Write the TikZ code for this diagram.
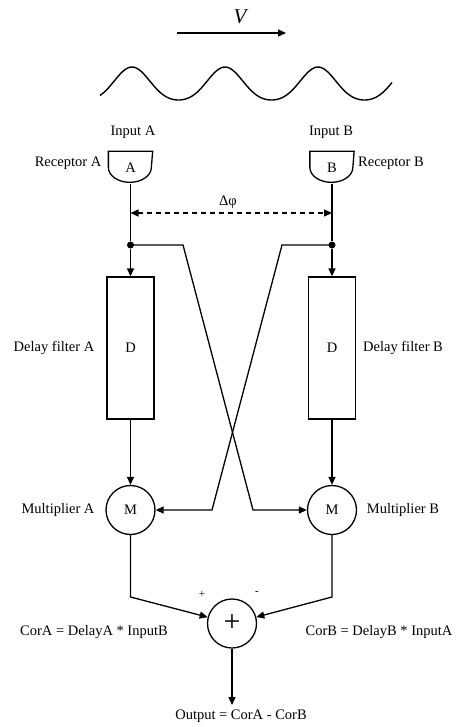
\documentclass[tikz,border=0pt]{standalone}
\usepackage{fontspec}
\setmainfont{Liberation Serif}
\usetikzlibrary{arrows.meta,calc}
\begin{document}
\begin{tikzpicture}[x=1pt,y=-1pt, line width=1.3pt,
  lbl/.style={font=\fontsize{14.5}{17}\selectfont, inner sep=0pt},
  small/.style={font=\fontsize{11}{12}\selectfont, inner sep=0pt},
  arr/.style={-{Triangle[length=8pt,width=7pt]}},
  dbl/.style={{Triangle[length=8pt,width=7pt]}-{Triangle[length=8pt,width=7pt]}},
  box/.style={draw, minimum width=47pt, minimum height=142pt, inner sep=0pt, font=\fontsize{14.5}{17}\selectfont},
  mult/.style={draw, circle, minimum size=49pt, inner sep=0pt, font=\fontsize{14.5}{17}\selectfont},
  recep/.style={minimum width=43pt, minimum height=31pt, inner sep=0pt, font=\fontsize{14.5}{17}\selectfont},
  dot/.style={circle, fill, inner sep=0pt, minimum size=7pt}]
\useasboundingbox (0,0) rectangle (464,727);

% velocity arrow
\node[font=\fontsize{21}{24}\selectfont\itshape, inner sep=0pt] (V) at (240,17) {V};
\coordinate (v1) at (177,33);
\coordinate (v2) at (286,33);
\draw[arr] (v1) -- (v2);

% wave
\draw[line width=1.4pt, smooth, samples=150, domain=100:392]
  plot (\x, {85.5-16.5*cos(3.871*(\x-132))-1.98*cos(7.742*(\x-132))});

% receptors
\node[recep] (RA) at (130.5,167.5) {A};
\draw (RA.north west) -- ++(0,16) arc[start angle=180,end angle=360,x radius=21.5pt,y radius=15pt] -- (RA.north east) -- cycle;
\node[recep] (RB) at (332,167.5) {B};
\draw (RB.north west) -- ++(0,16) arc[start angle=180,end angle=360,x radius=21.5pt,y radius=15pt] -- (RB.north east) -- cycle;

\node[lbl] (inA) at (133,132) {Input A};
\node[lbl] (inB) at (331,132) {Input B};
\node[lbl] (recA) at (68,163) {Receptor A};
\node[lbl] (recB) at (391,163) {Receptor B};

% branch dots
\node[dot] (dA) at (130.5,245) {};
\node[dot] (dB) at (332,245) {};
\draw (RA.south) -- (dA);
\draw (RB.south) -- (dB);

% phase difference
\coordinate (pl) at (130.5,213);
\coordinate (pr) at (332,213);
\draw[dbl, dash pattern=on 5pt off 4pt] (pl) -- (pr);
\node[lbl] (dphi) at (228,202) {Δφ};

% delay filters
\node[box] (DA) at (130.5,348) {D};
\node[box] (DB) at (332,348) {D};
\node[lbl] (dlA) at (54,348) {Delay filter A};
\node[lbl] (dlB) at (403,348) {Delay filter B};
\draw[arr] (dA) -- (DA.north);
\draw[arr] (dB) -- (DB.north);

% multipliers
\node[mult] (MA) at (130.5,510) {M};
\node[mult] (MB) at (332,510) {M};
\node[lbl] (mlA) at (58,510) {Multiplier A};
\node[lbl] (mlB) at (403,510) {Multiplier B};
\draw[arr] (DA.south) -- (MA.north);
\draw[arr] (DB.south) -- (MB.north);

% cross connections
\coordinate (cA1) at (183,245);
\coordinate (cA2) at (253,510);
\draw[arr] (dA.center) -- (cA1) -- (cA2) -- (MB.west);
\coordinate (cB1) at (282,245);
\coordinate (cB2) at (212,510);
\draw[arr] (dB.center) -- (cB1) -- (cB2) -- (MA.east);

% summation
\node[mult] (S) at (232,623.5) {\fontsize{30}{30}\selectfont +};
\coordinate (jA) at (130.5,597);
\coordinate (jB) at (332,597);
\draw[arr] (MA.south) -- (jA) -- (S);
\draw[arr] (MB.south) -- (jB) -- (S);
\node[small] (plus) at (202,594) {+};
\node[small] (minus) at (257,593) {-};
\node[lbl] (corA) at (94,632) {CorA = DelayA * InputB};
\node[lbl] (corB) at (379,632) {CorB = DelayB * InputA};

% output
\coordinate (out) at (232,705);
\draw[arr] (S.south) -- (out);
\node[lbl] (outl) at (241,716) {Output = CorA - CorB};
\end{tikzpicture}
\end{document}
